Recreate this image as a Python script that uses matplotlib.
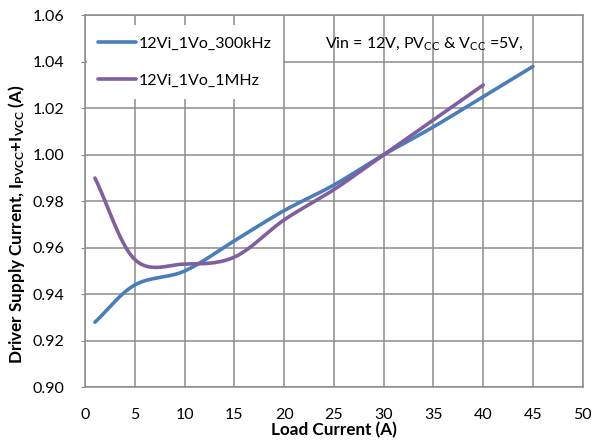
import numpy as np
import matplotlib
matplotlib.use("Agg")
import matplotlib.pyplot as plt

plt.rcParams['font.family'] = ['Lato', 'DejaVu Sans']
plt.rcParams['mathtext.fontset'] = 'custom'
plt.rcParams['mathtext.rm'] = 'Lato'
plt.rcParams['mathtext.it'] = 'Lato:italic'
plt.rcParams['mathtext.bf'] = 'Lato:bold'

# ---- data ----
load_300k = [1, 5, 10, 15, 20, 25, 30, 35, 40, 45]
curr_300k = [0.928, 0.944, 0.950, 0.963, 0.976, 0.987, 1.000, 1.012, 1.025, 1.038]
load_1m = [1, 5, 10, 15, 20, 25, 30, 35, 40]
curr_1m = [0.990, 0.955, 0.953, 0.956, 0.972, 0.985, 1.000, 1.015, 1.030]
labels = ["12Vi_1Vo_300kHz", "12Vi_1Vo_1MHz"]
colors = ["#4A7EBB", "#7F5FA0"]
xticks = list(range(0, 51, 5))
yticks = [0.90, 0.92, 0.94, 0.96, 0.98, 1.00, 1.02, 1.04, 1.06]


def smooth(x, y, n=30):
    """Catmull-Rom rendering of the line (Excel 'smoothed line' look)."""
    x = np.asarray(x, float); y = np.asarray(y, float)
    P = np.column_stack([x, y])
    P = np.vstack([2 * P[0] - P[1], P, 2 * P[-1] - P[-2]])
    out = []
    t = np.linspace(0, 1, n)[:, None]
    for i in range(1, len(P) - 2):
        p0, p1, p2, p3 = P[i - 1], P[i], P[i + 1], P[i + 2]
        seg = 0.5 * ((2 * p1) + (-p0 + p2) * t + (2 * p0 - 5 * p1 + 4 * p2 - p3) * t ** 2
                     + (-p0 + 3 * p1 - 3 * p2 + p3) * t ** 3)
        out.append(seg if i == 1 else seg[1:])
    S = np.vstack(out)
    return S[:, 0], S[:, 1]


fig = plt.figure(figsize=(5.95, 4.41), dpi=100)
W, H = 595, 441
ax = fig.add_axes([85 / W, (H - 387.3) / H, 497.7 / W, 372 / H])

for xs, ys, lab, c in [(load_300k, curr_300k, labels[0], colors[0]),
                       (load_1m, curr_1m, labels[1], colors[1])]:
    sx, sy = smooth(xs, ys)
    ax.plot(sx, sy, color=c, lw=2.6, label=lab, solid_capstyle='round', zorder=3)

ax.set_xlim(0, 50)
ax.set_ylim(0.90, 1.06)
ax.set_xticks(xticks)
ax.set_yticks(yticks)
ax.set_yticklabels([f"{v:.2f}" for v in yticks])
ax.grid(True, color="#8C8C8C", lw=1.1)
ax.set_axisbelow(True)
for s in ax.spines.values():
    s.set_color("#8C8C8C")
    s.set_linewidth(1.1)
ax.tick_params(axis='x', length=0, pad=15, labelsize=11.5, colors="#8C8C8C", labelcolor='black')
ax.tick_params(axis='y', length=3, pad=12, labelsize=11.5, colors="#8C8C8C", labelcolor='black')

ax.set_xlabel("Load Current (A)", fontsize=12.3, fontweight='bold')
ax.set_ylabel(r"Driver Supply Current, I$_{\mathbf{PVCC}}$+I$_{\mathbf{VCC}}$ (A)",
              fontsize=12.3, fontweight='bold')
ax.xaxis.set_label_coords(0.5, -0.093)
ax.yaxis.label.set_va('center')
ax.yaxis.set_label_coords(-0.137, 0.438)

leg = ax.legend(loc='upper left', bbox_to_anchor=(0.0, 1.0 - 0.022), fontsize=11.5,
                frameon=True, facecolor='white', edgecolor='none', framealpha=1,
                handlelength=2.4, handletextpad=0.15, labelspacing=1.45,
                borderpad=0.7, borderaxespad=0.1, fancybox=False)

ax.text(0.482, 0.925, r"Vin = 12V, PV$_{\mathrm{CC}}$ & V$_{\mathrm{CC}}$ =5V,",
        transform=ax.transAxes, fontsize=11.5, va='center', ha='left', zorder=4)

fig.savefig("out.png", dpi=100)
